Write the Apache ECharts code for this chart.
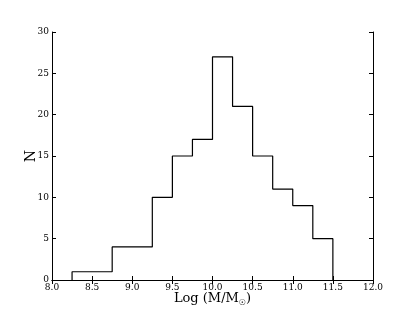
<!DOCTYPE html>
<html>
<head>
<meta charset="utf-8">
<script src="https://cdn.jsdelivr.net/npm/echarts@6/dist/echarts.min.js"></script>
<style>
  html, body { margin: 0; padding: 0; background: #ffffff; }
  #chart { width: 415px; height: 312px; }
</style>
</head>
<body>
<div id="chart"></div>
<script>
// histogram bins (left edges) and counts
const binEdges = [8.25, 8.75, 9.25, 9.5, 9.75, 10.0, 10.25, 10.5, 10.75, 11.0, 11.25, 11.5];
const counts = [1, 4, 10, 15, 17, 27, 21, 15, 11, 9, 5];

// step outline points
let pts = [[binEdges[0], 0]];
for (let i = 0; i < counts.length; i++) {
  pts.push([binEdges[i], counts[i]]);
}
pts.push([binEdges[binEdges.length - 1], counts[counts.length - 1]]);
pts.push([binEdges[binEdges.length - 1], 0]);

const font = "DejaVu Serif";
let myChart = echarts.init(document.getElementById("chart"));

let axisCommon = {
  axisLine: { show: true, lineStyle: { color: "#000", width: 1 } },
  axisTick: { show: true, inside: true, length: 4, lineStyle: { color: "#000" } },
  splitLine: { show: false },
};

let option = {
  animation: false,
  grid: { left: 52, right: 42, top: 32, bottom: 32, outerBoundsMode: "none", containLabel: false },
  xAxis: [
    Object.assign({
      type: "value", min: 8, max: 12, interval: 0.5, position: "bottom",
      axisLabel: { color: "#000", fontFamily: font, fontSize: 9, margin: 3,
        formatter: (v) => v.toFixed(1) },
      name: "Log (M/M{sub|\u2609})",
      nameLocation: "middle", nameGap: 11, nameMoveOverlap: false,
      nameTextStyle: { color: "#000", fontFamily: font, fontSize: 13, verticalAlign: "top",
        rich: { sub: { fontFamily: "DejaVu Sans", fontSize: 8, color: "#000", padding: [8, 0, 0, 0] } } },
    }, axisCommon),
    Object.assign({
      type: "value", min: 8, max: 12, interval: 0.5, position: "top",
      axisLabel: { show: false },
    }, axisCommon),
  ],
  yAxis: [
    Object.assign({
      type: "value", min: 0, max: 30, interval: 5, position: "left",
      axisLabel: { color: "#000", fontFamily: font, fontSize: 9, margin: 3 },
      name: "N", nameLocation: "middle", nameGap: 14, nameRotate: 90, nameMoveOverlap: false,
      nameTextStyle: { color: "#000", fontFamily: font, fontSize: 14 },
    }, axisCommon),
    Object.assign({
      type: "value", min: 0, max: 30, interval: 5, position: "right",
      axisLabel: { show: false },
    }, axisCommon),
  ],
  series: [
    {
      type: "line",
      data: pts,
      step: "end",
      symbol: "none",
      lineStyle: { color: "#000", width: 1.2 },
    },
  ],
};

myChart.setOption(option);
</script>
</body>
</html>
